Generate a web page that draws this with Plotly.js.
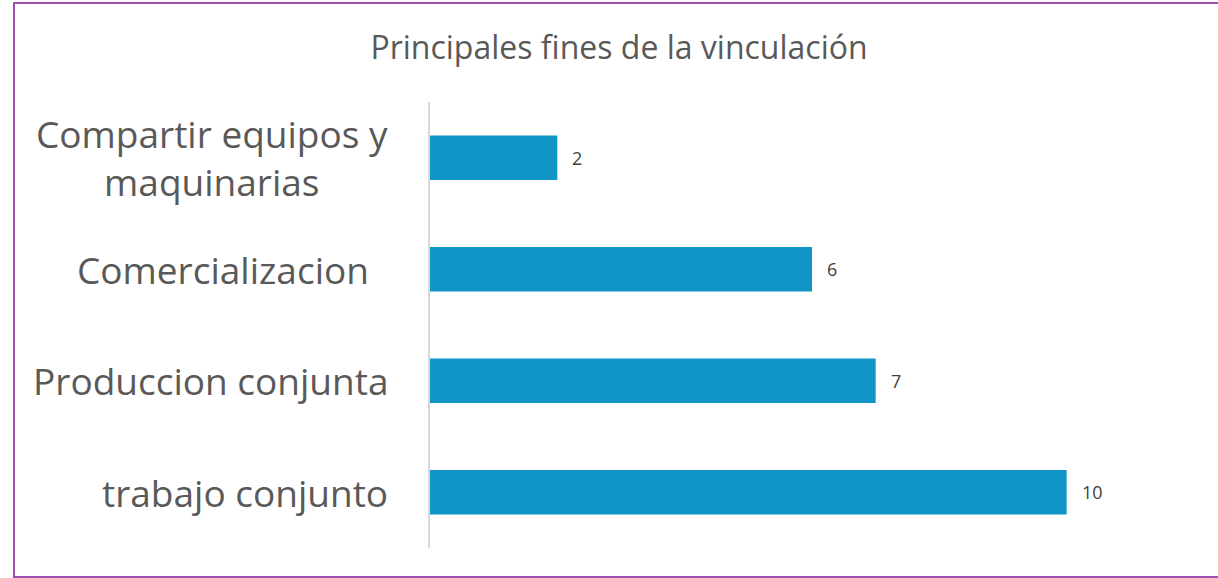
<!DOCTYPE html>
<html>
<head>
<meta charset="utf-8">
<script src="https://cdn.plot.ly/plotly-3.0.1.min.js"></script>
<style>html,body{margin:0;padding:0;background:#fff;}#chart{width:1218px;height:578px;}</style>
</head>
<body>
<div id="chart"></div>
<script>
const categories = ["Compartir equipos y<br>maquinarias", "Comercializacion ", "Produccion conjunta", "trabajo conjunto"];
const values = [2, 6, 7, 10];
const titleText = "Principales fines de la vinculación";

const L = 430, R = 24, T = 102, B = 30, W = 1218, H = 578;
const pw = W - L - R, ph = H - T - B;
const px = v => (v - L) / pw;
const py = v => (H - B - v) / ph;

const trace = {
  type: 'bar',
  orientation: 'h',
  x: values,
  y: categories,
  marker: {color: '#0F96C6'},
  hoverinfo: 'none'
};

const annotations = [];
categories.forEach((c, i) => {
  annotations.push({
    x: px(390), xref: 'paper', y: c, yref: 'y',
    text: c.replace(/ $/, '\u00a0\u00a0'), showarrow: false, xanchor: 'right', yanchor: 'middle', align: 'center',
    font: {family: 'Open Sans', size: 37, color: '#595959'}
  });
  annotations.push({
    x: values[i], xref: 'x', y: c, yref: 'y',
    text: String(values[i]), showarrow: false, xanchor: 'left', yanchor: 'middle', xshift: 13,
    font: {family: 'Open Sans', size: 18, color: '#404040'}
  });
});

const layout = {
  width: W, height: H,
  margin: {l: L, r: R, t: T, b: B},
  paper_bgcolor: '#fff', plot_bgcolor: '#fff',
  showlegend: false,
  bargap: 0.6,
  title: {text: titleText, x: 619 / W, xref: 'container', xanchor: 'center', y: 1 - 48 / H, yref: 'container', yanchor: 'middle',
    font: {family: 'Open Sans', size: 32, color: '#595959'}},
  xaxis: {range: [0, 12], visible: false, fixedrange: true},
  yaxis: {autorange: 'reversed', showticklabels: false, showgrid: false, zeroline: false,
    showline: true, linecolor: '#d9d9d9', linewidth: 2, ticks: '', fixedrange: true},
  annotations: annotations,
  shapes: [{type: 'rect', xref: 'paper', yref: 'paper', x0: px(14), x1: px(1219), y0: py(577), y1: py(3),
    line: {color: '#A24DB0', width: 2}, fillcolor: 'rgba(0,0,0,0)'}]
};

Plotly.newPlot('chart', [trace], layout, {displayModeBar: false, staticPlot: true});
</script>
</body>
</html>
